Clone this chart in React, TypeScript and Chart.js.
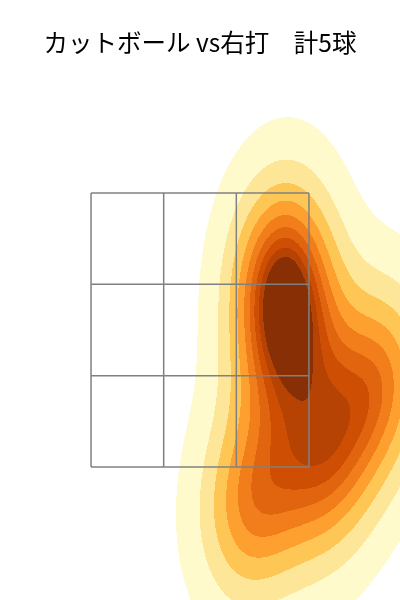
import React, { useEffect, useRef } from "react";
import { Chart, registerables } from "chart.js";

Chart.register(...registerables);

// ---- data ----
const TITLE = "カットボール vs右打　計5球";
// pitch locations (plate x in ft, height z in ft)
const pitchX = [0.526, 0.565, 1.17, 0.812, 0.325];
const pitchZ = [2.974, 2.464, 2.135, 1.493, 1.223];
// strike zone 3x3 grid edges
const zoneXEdges = [-0.708, -0.236, 0.236, 0.708];
const zoneZEdges = [1.5, 2.1667, 2.8333, 3.5];
// iso-proportion levels (seaborn style, thresh 0.05, 10 levels)
const levelProps = [0.05, 0.1556, 0.2611, 0.3667, 0.4722, 0.5778, 0.6833, 0.7889, 0.8944, 1.0];
// axis ranges
const xRange = [-1.2996, 1.2996];
const zRange = [0.529, 4.325];

// YlOrBr colormap anchors
const YLORBR = [
  [255, 255, 229],
  [255, 247, 188],
  [254, 227, 145],
  [254, 196, 79],
  [254, 153, 41],
  [236, 112, 20],
  [204, 76, 2],
  [153, 52, 4],
  [102, 37, 6],
];

function cmap(t: number): string {
  const tt = Math.max(0, Math.min(1, t)) * (YLORBR.length - 1);
  const i = Math.min(YLORBR.length - 2, Math.floor(tt));
  const f = tt - i;
  const a = YLORBR[i];
  const b = YLORBR[i + 1];
  const c = a.map((v, k) => Math.round(v + (b[k] - v) * f));
  return `rgb(${c[0]},${c[1]},${c[2]})`;
}

// ---- gaussian KDE (scott factor) ----
function buildKde() {
  const n = pitchX.length;
  const mx = pitchX.reduce((s, v) => s + v, 0) / n;
  const mz = pitchZ.reduce((s, v) => s + v, 0) / n;
  let sxx = 0, szz = 0, sxz = 0;
  for (let i = 0; i < n; i++) {
    const dx = pitchX[i] - mx;
    const dz = pitchZ[i] - mz;
    sxx += dx * dx;
    szz += dz * dz;
    sxz += dx * dz;
  }
  const f2 = Math.pow(n, -1 / 3);
  const kxx = (sxx / (n - 1)) * f2;
  const kzz = (szz / (n - 1)) * f2;
  const kxz = (sxz / (n - 1)) * f2;
  const det = kxx * kzz - kxz * kxz;
  const ixx = kzz / det, izz = kxx / det, ixz = -kxz / det;
  const norm = 1 / (n * 2 * Math.PI * Math.sqrt(det));
  const density = (x: number, z: number) => {
    let s = 0;
    for (let i = 0; i < n; i++) {
      const dx = x - pitchX[i];
      const dz = z - pitchZ[i];
      s += Math.exp(-0.5 * (ixx * dx * dx + 2 * ixz * dx * dz + izz * dz * dz));
    }
    return s * norm;
  };
  // support grid like seaborn (gridsize 200, cut 3)
  const bx = Math.sqrt(kxx), bz = Math.sqrt(kzz);
  const x0 = Math.min(...pitchX) - 3 * bx, x1 = Math.max(...pitchX) + 3 * bx;
  const z0 = Math.min(...pitchZ) - 3 * bz, z1 = Math.max(...pitchZ) + 3 * bz;
  const G = 200;
  const vals: number[] = [];
  for (let j = 0; j < G; j++) {
    const z = z0 + ((z1 - z0) * j) / (G - 1);
    for (let i = 0; i < G; i++) {
      const x = x0 + ((x1 - x0) * i) / (G - 1);
      vals.push(density(x, z));
    }
  }
  const sorted = vals.slice().sort((a, b) => b - a);
  const total = sorted.reduce((s, v) => s + v, 0);
  const cum: number[] = [];
  let acc = 0;
  for (const v of sorted) {
    acc += v;
    cum.push(acc / total);
  }
  const levels = levelProps
    .map((p) => {
      const target = 1 - p;
      let idx = 0;
      while (idx < cum.length && cum[idx] < target) idx++;
      return sorted[Math.min(idx, sorted.length - 1)];
    })
    .sort((a, b) => a - b);
  const lo = levels[0];
  const hi = levels[levels.length - 1];
  const colors: string[] = [];
  for (let i = 0; i < levels.length - 1; i++) {
    const mid = 0.5 * (levels[i] + levels[i + 1]);
    colors.push(cmap((mid - lo) / (hi - lo)));
  }
  return { density, levels, colors };
}

const kde = buildKde();

const kdePlugin = {
  id: "kdeFill",
  beforeDatasetsDraw(chart: any) {
    const { ctx, chartArea } = chart;
    const xs = chart.scales.x;
    const ys = chart.scales.y;
    const { levels, colors, density } = kde;
    const left = Math.floor(chartArea.left);
    const right = Math.ceil(chartArea.right);
    const top = Math.floor(chartArea.top);
    const bottom = Math.ceil(chartArea.bottom);
    ctx.save();
    ctx.beginPath();
    ctx.rect(chartArea.left, chartArea.top, chartArea.right - chartArea.left, chartArea.bottom - chartArea.top);
    ctx.clip();
    const band = (d: number) => {
      if (d < levels[0]) return -1;
      for (let k = levels.length - 2; k >= 0; k--) {
        if (d >= levels[k]) return k;
      }
      return -1;
    };
    for (let py = top; py < bottom; py++) {
      const z = ys.getValueForPixel(py + 0.5);
      let runStart = left;
      let runBand = band(density(xs.getValueForPixel(left + 0.5), z));
      for (let px = left + 1; px <= right; px++) {
        const b = px < right ? band(density(xs.getValueForPixel(px + 0.5), z)) : -2;
        if (b !== runBand) {
          if (runBand >= 0) {
            ctx.fillStyle = colors[runBand];
            ctx.fillRect(runStart, py, px - runStart, 1);
          }
          runStart = px;
          runBand = b;
        }
      }
    }
    ctx.restore();
  },
};

function gridDatasets() {
  const ds: any[] = [];
  const zMin = zoneZEdges[0], zMax = zoneZEdges[zoneZEdges.length - 1];
  const xMin = zoneXEdges[0], xMax = zoneXEdges[zoneXEdges.length - 1];
  for (const x of zoneXEdges) {
    ds.push({ data: [{ x, y: zMin }, { x, y: zMax }] });
  }
  for (const z of zoneZEdges) {
    ds.push({ data: [{ x: xMin, y: z }, { x: xMax, y: z }] });
  }
  return ds.map((d) => ({
    ...d,
    showLine: true,
    borderColor: "rgb(128,128,128)",
    borderWidth: 1.5,
    pointRadius: 0,
    fill: false,
  }));
}

export default function App() {
  const ref = useRef<HTMLCanvasElement | null>(null);
  useEffect(() => {
    document.body.style.margin = "0";
    if (!ref.current) return;
    const chart = new Chart(ref.current, {
      type: "scatter",
      data: { datasets: gridDatasets() },
      options: {
        responsive: false,
        animation: false,
        layout: { padding: 0 },
        scales: {
          x: { type: "linear", min: xRange[0], max: xRange[1], display: false },
          y: { type: "linear", min: zRange[0], max: zRange[1], display: false },
        },
        plugins: {
          legend: { display: false },
          tooltip: { enabled: false },
          title: {
            display: true,
            text: TITLE,
            color: "#000",
            font: { family: "'Noto Sans CJK JP', 'Noto Sans', sans-serif", size: 24.5, weight: "normal" },
            padding: { top: 28, bottom: 22.6 },
          },
        },
      },
      plugins: [kdePlugin],
    } as any);
    return () => chart.destroy();
  }, []);
  return (
    <div style={{ width: 400, height: 600 }}>
      <canvas ref={ref} width={400} height={600} style={{ display: "block" }} />
    </div>
  );
}
